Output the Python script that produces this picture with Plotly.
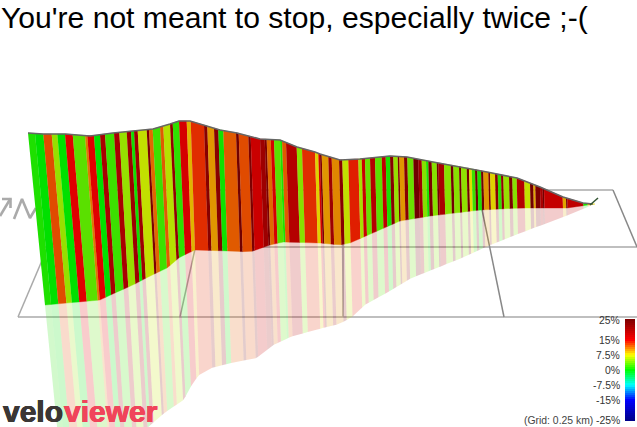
import numpy as np
import plotly.graph_objects as go

TITLE = "You're not meant to stop, especially twice ;-("

# Ridge line of the wall, on the 637x427 canvas scale
ridge_x = [28, 43, 65, 90, 113, 133, 153, 170, 179, 190, 207, 220, 237, 260, 280, 297, 315, 320, 340, 360, 390,
           407, 433, 467, 487, 517, 540, 563, 583, 593]
ridge_y = [133, 134, 134, 136, 133, 131, 129, 124, 121, 121, 126, 130, 133, 139, 140, 147, 152, 154, 160, 159, 156,
           157, 162, 168, 172, 178, 187, 197, 203, 204]

# Foot of the wall
foot_x = [45, 100, 117, 133, 150, 167, 180, 195, 230, 250, 270, 283, 320, 340, 350, 400, 430, 480, 520, 567, 595]
foot_y = [305, 300, 292, 285, 276, 268, 257, 250, 251, 252, 245, 242, 243, 245, 243, 221, 216, 210, 208, 208, 204]

# Horizontal lean between ridge and foot
lean_ridge_x = [28, 43.3, 72.7, 119.3, 179, 190.7, 236, 280, 315, 400, 480, 595]
lean_foot_x = [45, 58.3, 86.7, 128.3, 185, 195, 240, 283.5, 317.7, 401.5, 481, 595]

# Lower edge of the mirrored profile
mirror_x = [45, 100, 140, 157, 177, 187, 200, 227, 253, 270, 287, 320, 337, 350, 363, 390, 410, 433, 463, 487, 520,
            563, 595]
mirror_y = [477, 470, 427, 413, 400, 383, 370, 363, 358, 345, 337, 328, 324, 317, 305, 290, 278, 269, 257, 246, 233,
            217, 204]

# Gradient segments along the ridge: start of each one and its gradient in percent
segment_x = [28, 35, 43.3, 51.7, 57.3, 65, 72.7, 85, 87.3, 94, 100, 105, 114, 119.3, 126.7, 131, 134, 137.7, 146.7,
             149, 152.7, 160, 163.3, 170, 172.7, 179, 186.7, 190.7, 204, 207.3, 214, 218.3, 223.3, 236, 238.7, 248.3,
             250.7, 260, 264.7, 266.7, 270.7, 274, 280, 282, 286, 296.7, 302, 315, 318.3,
             320, 321.7, 328.3, 331.7, 339, 342.3, 348.3, 358.3, 361.7, 365, 370, 375, 381.7, 385.7, 390, 393.3,
             397.7, 399.3, 404, 407.3, 413.3, 418.3, 421.7, 426, 428.3, 431.7, 436.7, 438.3, 444, 450.7, 453.3, 459,
             461, 466.7, 469, 471.7, 475, 477.3, 481, 483.3, 488.3, 490, 495, 497.7, 501, 503.3, 509, 512.3, 516.7,
             524.3, 530, 533.3, 535.3, 540, 542.7, 544, 562.7, 566, 567.3, 583.3, 587.7, 591.7]
segment_grade = [1, 0, 12.5, 5, 0, 15, 3, 11, 15, 0, 20, 2, 20, 5, 21, 0.5, 21, 6.5, 24, 11.5, 2, 12, 6, 22, 1.5, 16,
                 9, 13.5, 23, 10, 23, 0.5, 12, 25, 12.5, 24, 17, 21, 24, 11.5, 16, 3, 1, 12, 19, 4.5, 13.5, 8, 16,
                 24, 10, 21, 10.5, 23, 6.5, 14, 5.5, 17, 3.5, 19, 3, 18, 0.8, 23, 5, 24, 10, 23, 3.5, 25, 21, 4.5,
                 1, 24, 4.5, 25, 20, 4.5, 25, 4.5, 25, 4.8, 25, 7.5, 2, 25, 1, 25, 10, 24, 8, 23, 1.5, 22, 5, 24, 4.5,
                 19, 6.5, 25, 9.5, 24, 20, 25, 17.5, 9.5, 25, 18, 1, 10, 8]
segment_end = 595

# Colour scale of the gradient key
scale_grades = [-25, -15, -7.5, 0, 7.5, 15, 25]
scale_colors = ["#00008b", "#0000ff", "#00ffff", "#00ff00", "#ffff00", "#ff0000", "#800000"]
scale_rgb = np.array([[int(c[i:i + 2], 16) for i in (1, 3, 5)] for c in scale_colors], dtype=float)

key_ticks = [25, 15, 7.5, 0, -7.5, -15, -25]
key_labels = ["25%", "15%", "7.5%", "0%", "-7.5%", "-15%", "-25%"]
key_grades = list(range(25, -26, -1))
WALL_SHADE = 0.88
MIRROR_ALPHA = 0.2


def grade_rgb(grade, shade=1.0):
    rgb = [np.interp(grade, scale_grades, scale_rgb[:, k]) * shade for k in range(3)]
    return tuple(int(round(v)) for v in rgb)


def key_y(grade):
    return 370 - 2 * grade


def heavy(colour):
    # Thickens a font with a same-coloured text shadow
    return f"0.5px 0 0 {colour}, -0.5px 0 0 {colour}, 0 0.4px 0 {colour}"


fig = go.Figure()


def add_line(xs, ys, color, width):
    fig.add_trace(go.Scatter(x=xs, y=ys, mode="lines", line=dict(color=color, width=width),
                             hoverinfo="skip", showlegend=False))


# Perspective floor grid
GRID = "#aaaaaa"
for y_level, x_from, x_to in [(190, 72, 613), (247, 40, 637), (317, 18, 637)]:
    add_line([x_from, x_to], [y_level, y_level], GRID, 1.5)
for x_back, x_front, y_end, colour in [(72, 18, 317, GRID), (208, 180, 317, GRID), (343, 343, 317, GRID),
                                       (478, 504, 317, "#888888"), (613, 637, 247, "#888888")]:
    add_line([x_back, x_front], [190, y_end], colour, 1.5)

# Direction marker
add_line([0, 10.5], [216, 198.5], GRID, 2.6)
add_line([2, 10.5, 10.5], [199, 199, 208], GRID, 2.6)
add_line([14, 22, 30, 36], [219, 199, 218, 208], GRID, 2.6)

edges = np.array(segment_x + [segment_end], dtype=float)
top_y = np.interp(edges, ridge_x, ridge_y)
base_x = np.interp(edges, lean_ridge_x, lean_foot_x)
base_y = np.interp(base_x, foot_x, foot_y)
heights = np.maximum(base_y - top_y, 1.0)
refl_y = np.maximum(np.interp(base_x, mirror_x, mirror_y), base_y)
refl_x = base_x + (base_x - edges) / heights * (refl_y - base_y)

# Mirrored stripes under the floor
for i, grade in enumerate(segment_grade):
    r, g, b = grade_rgb(grade, WALL_SHADE)
    colour = f"rgba({r},{g},{b},{MIRROR_ALPHA})"
    fig.add_trace(go.Scatter(
        x=[base_x[i], base_x[i + 1], refl_x[i + 1], refl_x[i]],
        y=[base_y[i], base_y[i + 1], refl_y[i + 1], refl_y[i]],
        mode="lines", fill="toself", fillcolor=colour, line=dict(width=0),
        hoverinfo="skip", showlegend=False))

# Wall stripes
for i, grade in enumerate(segment_grade):
    r, g, b = grade_rgb(grade, WALL_SHADE)
    colour = f"rgb({r},{g},{b})"
    fig.add_trace(go.Scatter(
        x=[edges[i], edges[i + 1], base_x[i + 1], base_x[i]],
        y=[top_y[i], top_y[i + 1], base_y[i + 1], base_y[i]],
        mode="lines", fill="toself", fillcolor=colour, line=dict(width=0.4, color=colour),
        hoverinfo="skip", showlegend=False))

add_line(ridge_x, ridge_y, "#666666", 1.6)
add_line([590, 598], [205, 198], "#335533", 1.5)

# Gradient key
fig.add_trace(go.Heatmap(
    z=[[g] for g in key_grades], x0=630, dx=10, y0=key_y(25), dy=2,
    zmin=-25, zmax=25, showscale=False, hoverinfo="skip",
    colorscale=[[(g + 25) / 50, c] for g, c in zip(scale_grades, scale_colors)]))

notes = [dict(x=1, y=17, text=TITLE, xanchor="left", yanchor="middle",
              font=dict(family="Liberation Sans", size=30.1, color="#000000"))]
for tick, label in zip(key_ticks, key_labels):
    notes.append(dict(x=619.5, y=key_y(tick), text=label, xanchor="right", yanchor="middle",
                      font=dict(family="Liberation Sans", size=10.4, color="#333333")))
notes.append(dict(x=593, y=key_y(-25), text="(Grid: 0.25 km)", xanchor="right", yanchor="middle",
                  font=dict(family="Liberation Sans", size=10.4, color="#444444")))
notes.append(dict(x=3, y=411, text="velo", xanchor="left", yanchor="middle",
                  font=dict(family="Liberation Sans", size=30, color="#3b3735", weight="bold",
                            shadow=heavy("#3b3735"))))
notes.append(dict(x=64, y=411, text="viewer", xanchor="left", yanchor="middle",
                  font=dict(family="Liberation Sans", size=30, color="#f0445a", weight="bold",
                            shadow=heavy("#f0445a"))))

fig.update_layout(
    width=637, height=427, margin=dict(l=0, r=0, t=0, b=0),
    paper_bgcolor="#ffffff", plot_bgcolor="#ffffff", showlegend=False,
    xaxis=dict(range=[0, 637], visible=False, fixedrange=True),
    yaxis=dict(range=[427, 0], visible=False, fixedrange=True),
    annotations=[dict(n, showarrow=False, xref="x", yref="y", borderpad=0, borderwidth=0) for n in notes],
)

assert len(segment_x) == len(segment_grade)
fig.write_html("out.html", config=dict(displayModeBar=False))
